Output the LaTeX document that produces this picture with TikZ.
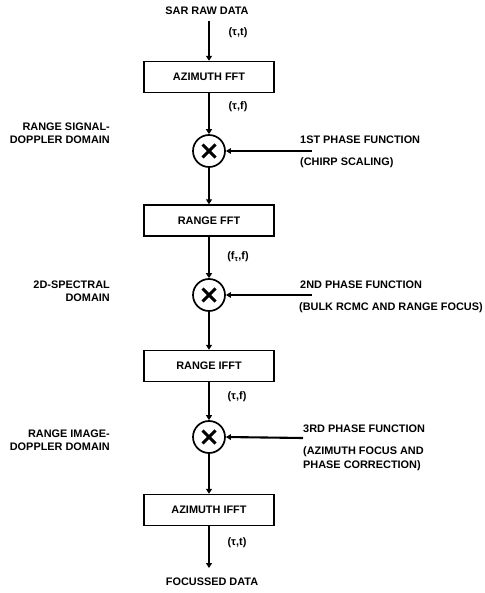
\documentclass[tikz,border=0pt]{standalone}
\usepackage{fontspec}
\setmainfont{Liberation Sans}
\usetikzlibrary{arrows.meta}
\begin{document}
\begin{tikzpicture}[x=1pt,y=-1pt,
  lbl/.style={font=\bfseries\fontsize{10.9}{12.5}\selectfont, inner sep=0pt},
  procbox/.style={lbl, draw, line width=1.4pt, minimum width=130pt, minimum height=31pt},
  mult/.style={circle, draw, line width=1.7pt, minimum size=32pt, inner sep=0pt,
    path picture={
      \draw[line width=3pt]
        ([shift={(-6.5pt,-6.5pt)}]path picture bounding box.center) --
        ([shift={(6.5pt,6.5pt)}]path picture bounding box.center)
        ([shift={(-6.5pt,6.5pt)}]path picture bounding box.center) --
        ([shift={(6.5pt,-6.5pt)}]path picture bounding box.center);
    }},
  flow/.style={line width=2.6pt, -{Triangle[length=5pt,width=6pt]}},
  feed/.style={line width=2.1pt, -{Triangle[length=5pt,width=5.5pt]}}
]
\useasboundingbox (0,0) rectangle (484,593);

% main chain
\node[lbl] (raw) at (207,11) {SAR RAW DATA};
\coordinate (in) at (209,21);
\node[procbox] (azfft) at (209,77) {AZIMUTH FFT};
\node[mult] (m1) at (209,151) {};
\node[procbox] (rfft) at (209,220.5) {RANGE FFT};
\node[mult] (m2) at (209,295) {};
\node[procbox] (rifft) at (209,366) {RANGE IFFT};
\node[mult] (m3) at (209,437) {};
\node[procbox] (azifft) at (209,510) {AZIMUTH IFFT};
\coordinate (out) at (209,568);
\node[lbl] (foc) at (212,582) {FOCUSSED DATA};

\draw[flow] (in) -- (azfft.north);
\draw[flow] (azfft.south) -- (m1.north);
\draw[flow] (m1.south) -- (rfft.north);
\draw[flow] (rfft.south) -- (m2.north);
\draw[flow] (m2.south) -- (rifft.north);
\draw[flow] (rifft.south) -- (m3.north);
\draw[flow] (m3.south) -- (azifft.north);
\draw[flow] (azifft.south) -- (out);

% coordinate labels
\node[lbl] (c1) at (238,33) {(τ,t)};
\node[lbl] (c2) at (238,107) {(τ,f)};
\node[lbl] (c3) at (238,257) {(f\textsubscript{τ},f)};
\node[lbl] (c4) at (237,397) {(τ,f)};
\node[lbl] (c5) at (237,543) {(τ,t)};

% phase functions
\coordinate (p1) at (312,151);
\coordinate (p2) at (312,295);
\coordinate (p3) at (303,438);
\draw[feed] (p1) -- (m1.east);
\draw[feed] (p2) -- (m2.east);
\draw[feed] (p3) -- (m3.east);

\node[lbl, anchor=west] (f1) at (300,140) {1ST PHASE FUNCTION};
\node[lbl, anchor=west] (f1b) at (300,163) {(CHIRP SCALING)};
\node[lbl, anchor=west] (f2) at (300,285) {2ND PHASE FUNCTION};
\node[lbl, anchor=west] (f2b) at (299,308) {(BULK RCMC AND RANGE FOCUS)};
\node[lbl, anchor=west] (f3) at (303,429) {3RD PHASE FUNCTION};
\node[lbl, anchor=west, align=left, font=\bfseries\fontsize{10.9}{14}\selectfont] (f3b) at (303,459) {(AZIMUTH FOCUS AND\\PHASE CORRECTION)};

% domains
\node[lbl, anchor=east, align=right] (d1) at (110,133) {RANGE SIGNAL-\\DOPPLER DOMAIN};
\node[lbl, anchor=east, align=right] (d2) at (110,291) {2D-SPECTRAL\\DOMAIN};
\node[lbl, anchor=east, align=right] (d3) at (110,440) {RANGE IMAGE-\\DOPPLER DOMAIN};
\end{tikzpicture}
\end{document}
